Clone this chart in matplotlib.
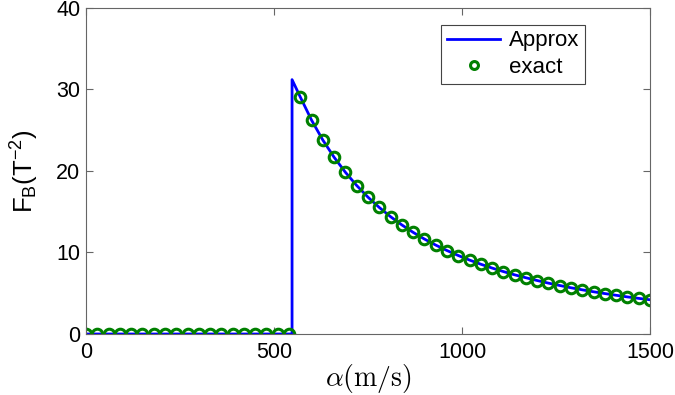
import numpy as np
import matplotlib
matplotlib.use("Agg")
import matplotlib.pyplot as plt

plt.rcParams['font.family'] = ['Liberation Sans', 'DejaVu Sans']
plt.rcParams['mathtext.fontset'] = 'custom'
plt.rcParams['mathtext.rm'] = 'Liberation Sans'
plt.rcParams['mathtext.it'] = 'Liberation Sans:italic'

# exact solution, sampled every 30 m/s
alpha_exact = np.arange(0, 1501, 30)
fb_exact = [0.0] * 19 + [
    29.06, 26.22, 23.78, 21.67, 19.83, 18.21, 16.78, 15.52, 14.39, 13.38,
    12.47, 11.65, 10.91, 10.24, 9.63, 9.07, 8.56, 8.09, 7.66, 7.26,
    6.90, 6.56, 6.24, 5.95, 5.67, 5.42, 5.18, 4.96, 4.75, 4.55,
    4.37, 4.20]

# approximation: zero up to the jump, then the decaying branch
alpha_approx = [0, 548, 548] + list(alpha_exact[19:])
fb_approx = [0.0, 0.0, 31.2] + fb_exact[19:]

fig = plt.figure(figsize=(6.75, 3.95), dpi=100)
ax = fig.add_axes([0.1274, 0.1544, 0.8356, 0.8256])

ax.plot(alpha_approx, fb_approx, color='#0000ff', lw=2, label='Approx')
ax.plot(alpha_exact, fb_exact, 'o', mfc='none', mec='#008000', mew=2.2,
        ms=7.6, label='exact')

ax.set_xlim(0, 1500)
ax.set_ylim(0, 40)
ax.set_xticks([0, 500, 1000, 1500])
ax.set_yticks([0, 10, 20, 30, 40])
ax.tick_params(direction='in', top=True, right=True, labelsize=15.5,
               length=5, color='#666666')
ax.tick_params(axis='x', pad=6)
ax.tick_params(axis='y', pad=4)
for s in ax.spines.values():
    s.set_color('#666666')

ax.set_xlabel(r'$\alpha(\mathrm{m/s})$', fontsize=20, labelpad=-1,
              math_fontfamily='cm')
ax.set_ylabel(r'F$_\mathrm{B}$(T$^{-2}$)', fontsize=18.5, labelpad=11)

leg = ax.legend(loc='upper right', bbox_to_anchor=(0.885, 0.948),
                fontsize=16, fancybox=False, framealpha=1,
                handlelength=2.4, borderpad=0.25, labelspacing=0.25,
                handletextpad=0.4, markerscale=0.75, borderaxespad=0)
leg.get_frame().set_edgecolor('#444444')
leg.get_frame().set_linewidth(0.8)

fig.savefig('out.png', dpi=100)
